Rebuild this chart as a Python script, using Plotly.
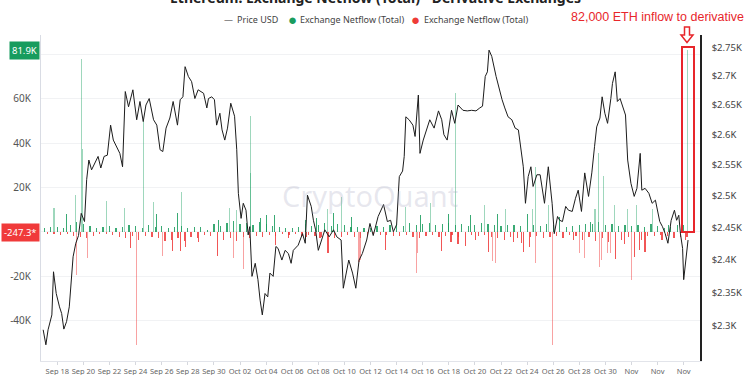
import pandas as pd
import plotly.graph_objects as go

# ---------------- data ----------------
start = pd.Timestamp("2024-09-18 00:00")

# ETH price (USD); time as hours after 2024-09-18 00:00
price_hours = [-26, -21, -17, -10, -7, -2, 4, 8, 12, 17, 22, 26, 29, 34, 39, 44,
               50, 54, 58, 63, 69, 75, 80, 86, 92, 98, 103, 109, 115, 120, 125, 131, 139, 146, 152, 158,
               163, 169, 177, 183, 189, 194, 200, 207, 213, 221, 226, 231, 235, 241, 247, 253, 259, 269, 275,
               278, 284, 289, 293, 299, 303, 308, 313, 319, 326, 330, 333, 338, 342, 347, 351, 354, 358, 364, 369,
               373, 377, 382, 387, 391, 397, 402, 406, 413, 419, 425, 430, 434, 443, 451, 456, 460, 467, 471, 475,
               480, 486, 492, 500, 508, 514, 522, 526, 532, 536, 543, 549, 555, 561, 569, 575, 581,
               590, 600, 607, 613, 618, 624, 629, 635, 638, 641, 647, 654, 658, 664, 667, 673, 679, 685, 693, 701,
               707, 711, 717, 725, 731, 737, 746, 754, 762, 770, 777, 782, 787, 791, 794, 799, 807, 813, 818, 823,
               829, 836, 842, 848, 852, 857, 861, 866, 871, 875, 882,
               888, 896, 903, 910, 914, 920, 924, 929, 935, 940, 947, 953, 958, 964, 970, 977, 983, 988, 992, 998,
               1002, 1007, 1012, 1018, 1021, 1026, 1030, 1035, 1041, 1045, 1049, 1055, 1061, 1066, 1072, 1075,
               1081, 1088, 1094, 1100, 1108, 1113, 1118, 1123, 1129, 1135, 1139, 1143, 1146, 1150, 1152, 1156, 1160]
price_usd = [2294, 2272, 2294, 2316, 2381, 2348, 2328, 2318, 2295, 2306, 2328, 2379, 2404, 2425, 2437, 2472,
             2459, 2526, 2558, 2542, 2553, 2564, 2545, 2564, 2566, 2616, 2591, 2580, 2569, 2547, 2673, 2647, 2676, 2625, 2656, 2622,
             2650, 2661, 2625, 2616, 2575, 2572, 2611, 2628, 2656, 2616, 2659, 2664, 2716, 2699, 2690, 2661, 2676, 2670, 2645,
             2661, 2664, 2659, 2616, 2636, 2608, 2591, 2611, 2653, 2631, 2575, 2504, 2464, 2488, 2477, 2438, 2451, 2374, 2394, 2369,
             2338, 2316, 2348, 2343, 2379, 2374, 2420, 2417, 2399, 2414, 2409, 2394, 2414, 2422, 2440, 2425, 2501, 2483, 2461, 2446,
             2414, 2430, 2446, 2435, 2446, 2435, 2430, 2356, 2383, 2399, 2379, 2356, 2399, 2409, 2430, 2456, 2437,
             2467, 2486, 2459, 2461, 2443, 2454, 2531, 2540, 2564, 2630, 2625, 2616, 2597, 2667, 2569, 2591, 2608, 2625, 2611, 2640,
             2625, 2600, 2591, 2641, 2619, 2650, 2641, 2640, 2641, 2640, 2645, 2648, 2699, 2707, 2745, 2734, 2699, 2676, 2659, 2645,
             2630, 2625, 2611, 2608, 2578, 2547, 2488, 2531, 2547, 2515, 2534,
             2534, 2488, 2547, 2488, 2440, 2467, 2461, 2459, 2483, 2477, 2475, 2496, 2509, 2475, 2537, 2499, 2537, 2580, 2613, 2628,
             2664, 2636, 2619, 2661, 2687, 2707, 2656, 2661, 2645, 2633, 2558, 2520, 2499, 2512, 2569, 2509,
             2512, 2504, 2488, 2493, 2459, 2451, 2440, 2425, 2461, 2477, 2461, 2469, 2440, 2417, 2369, 2399, 2430]

# Exchange netflow (thousand ETH), 6-hourly background flow from 2024-09-17 00:00
base_flow = [1.5, -0.8, 2.0, -1.0,  2.2, -1.5, 1.8, -1.2,  3.0, -2.0, 4.5, -2.5,  3.5, -3.0, 2.5, -2.0,
             1.8, -1.2, 2.0, -1.0,  2.5, -1.5, 1.5, -2.5,  2.0, -3.0, 3.0, -2.0,  2.5, -3.5, 1.8, -2.0,
             3.0, -2.5, 2.0, -3.0,  2.5, -4.0, 1.5, -3.5,  2.0, -3.0, 2.5, -4.0,  1.5, -2.5, 2.0, -3.0,
             2.0, -1.5, 1.0, -2.0,  3.5, -2.5, 2.5, -3.5,  4.0, -3.0, 5.0, -4.0,  3.5, -2.5, 4.0, -3.0,
             3.0, -2.0, 4.5, -2.5,  3.5, -1.5, 2.5, -2.0,  2.0, -1.0, 1.5, -1.5,  1.5, -1.0, 2.0, -2.0,
             3.5, -1.5, 2.5, -2.0,  3.0, -2.5, 4.0, -2.0,  2.5, -3.0, 3.5, -2.5,  3.0, -1.5, 2.0, -2.5,
             2.0, -3.0, 1.5, -2.0,  1.5, -1.0, 2.5, -1.5,  2.0, -1.5, 3.0, -2.0,  3.5, -2.0, 2.5, -1.5,
             4.0, -2.5, 3.0, -3.0,  3.5, -2.0, 4.0, -1.5,  3.0, -2.5, 3.5, -2.0,  4.0, -1.5, 3.0, -2.5,
             3.5, -1.0, 2.5, -1.5,  3.0, -2.0, 4.0, -1.5,  3.5, -2.5, 3.0, -3.0,  2.5, -3.5, 3.0, -2.5,
             3.0, -3.0, 2.5, -3.5,  3.5, -2.5, 3.0, -2.0,  2.5, -3.0, 3.5, -2.5,  3.0, -2.0, 2.0, -3.0,
             2.0, -1.5, 2.5, -2.0,  3.0, -3.5, 3.5, -2.5,  3.5, -4.0, 4.5, -3.0,  3.0, -4.5, 3.5, -5.0,
             2.5, -3.5, 3.0, -2.5,  2.5, -2.5, 3.0, -3.5,  2.0, -2.0, 3.5, -2.0,  2.5, -1.5, 1.5, -2.0,
             2.0, -3.0, 3.0, -2.5,  3.0, -2.5]

# larger individual netflow readings (hours after 2024-09-18 00:00, thousand ETH)
spike_hours = [-6, 17, 34, 35, 44, 46, 55, 91, 124, 134, 146, 159, 177, 183, 193, 212, 221, 227, 229, 236, 259,
               294, 297, 316, 324, 330, 342, 355, 356, 373, 385, 400, 401, 425, 457, 458, 477, 483, 497, 498, 508,
               522, 541, 555, 558,
               604, 641, 660, 662, 668, 686, 706, 719, 724, 733, 737, 750, 760, 769, 785, 793, 800, 806, 810, 825,
               839, 854, 858, 864, 868, 874, 879, 880,
               903, 910, 924, 950, 960, 970, 980, 989, 996, 997, 1001, 1005, 1012, 1018, 1025, 1026, 1043, 1049,
               1056, 1062, 1065, 1070, 1081, 1094, 1112, 1124, 1156, 1159, 1162]
spike_flow = [10.8, 8.0, 16.6, -19.6, 78.0, 37.2, -12.0, 13.9, 10.8, -7.5, -51.2, 50.0, 13.3, 7.8, -11.0, -8.6, 8.3, -8.7, 17.8, -6.8, -4.5,
              -8.3, 5.3, 10.8, -12.0, 9.8, -14.3, 26.7, 52.3, 6.0, 7.5, 7.5, -6.0, -2.7, 5.3, -2.3, 6.0, -3.0, 10.5, -7.5, 8.3,
              15.8, 6.8, -13.5, -9.8,
              -8.3, 11.3, -18.5, -9.8, 7.5, 13.1, -8.6, 7.8, -4.5, 62.8, -5.5, -5.3, 7.5, -3.8, 12.0, -9.0, -13.0, -14.0, 8.0, 10.5,
              -4.5, -5.3, -5.6, 4.5, -6.8, 10.5, 29.4, -14.0,
              12.0, -51.2, 4.5, -3.8, -9.8, -12.0, 4.5, 10.5, 31.2, -15.8, -12.8, 25.2, -9.8, -9.8, 12.0, -7.5, -5.5, 10.5,
              -21.8, -9.0, 12.0, -8.3, -9.0, 10.5, -3.8, 3.0, -3.8, 81.9, -0.2473]

x_tick_dates = ["2024-09-18", "2024-09-20", "2024-09-22", "2024-09-24", "2024-09-26", "2024-09-28", "2024-09-30",
                "2024-10-02", "2024-10-04", "2024-10-06", "2024-10-08", "2024-10-10", "2024-10-12", "2024-10-14",
                "2024-10-16", "2024-10-18", "2024-10-20", "2024-10-22", "2024-10-24", "2024-10-26", "2024-10-28",
                "2024-10-30", "2024-11-01", "2024-11-03", "2024-11-05"]
x_tick_text = ["Sep 18", "Sep 20", "Sep 22", "Sep 24", "Sep 26", "Sep 28", "Sep 30", "Oct 02", "Oct 04", "Oct 06",
               "Oct 08", "Oct 10", "Oct 12", "Oct 14", "Oct 16", "Oct 18", "Oct 20", "Oct 22", "Oct 24", "Oct 26",
               "Oct 28", "Oct 30", "Nov", "Nov", "Nov"]
flow_ticks = [-40, -20, 0, 20, 40, 60, 80]
flow_tick_text = ["-40K", "-20K", "", "20K", "40K", "60K", ""]
price_ticks = [2300, 2350, 2400, 2450, 2500, 2550, 2600, 2650, 2700, 2750]
price_tick_text = ["$2.3K", "$2.35K", "$2.4K", "$2.45K", "$2.5K", "$2.55K", "$2.6K", "$2.65K", "$2.7K", "$2.75K"]

# ---------------- build ----------------
price_t = start + pd.to_timedelta(price_hours, unit="h")
base_t = pd.date_range("2024-09-17 00:00", periods=len(base_flow), freq="6h")
spike_t = start + pd.to_timedelta(spike_hours, unit="h")
flow_t = list(base_t) + list(spike_t)
flow_v = list(base_flow) + list(spike_flow)


def bar_color(v):
    if v >= 0:
        return "rgba(24,160,96,0.42)" if v > 9 else "rgba(24,155,92,0.85)"
    return "rgba(240,60,60,0.48)" if v < -9 else "rgba(238,56,56,0.85)"


colors = [bar_color(v) for v in flow_v]

fig = go.Figure()
fig.add_trace(go.Bar(x=flow_t, y=flow_v, marker=dict(color=colors, line=dict(width=0)),
                     width=2.2 * 3600 * 1000, name="Exchange Netflow (Total)", yaxis="y"))
fig.add_trace(go.Scatter(x=price_t, y=price_usd, mode="lines", line=dict(color="#1c1c1c", width=1),
                         name="Price USD", yaxis="y2"))

# plot-area pixel geometry helpers (layout positions only)
L, R, T, B = 41, 700, 35, 361


def pxx(px):
    return (px - L) / (R - L)


def pxy(py):
    return (B - py) / (B - T)


FONT = "Noto Sans, Open Sans, sans-serif"
RED = "#e8262b"
ann = []
ann.append(dict(text="<b>Ethereum: Exchange Netflow (Total) - Derivative Exchanges</b>", x=pxx(375), y=pxy(9),
                xref="paper", yref="paper", xanchor="center", yanchor="bottom", showarrow=False,
                font=dict(family=FONT, size=14, color="#222")))
# legend
ann.append(dict(text="—", x=pxx(222), y=pxy(19), xref="paper", yref="paper", xanchor="left", yanchor="middle",
                showarrow=False, font=dict(family=FONT, size=9, color="#333")))
ann.append(dict(text="Price USD", x=pxx(235), y=pxy(19), xref="paper", yref="paper", xanchor="left", yanchor="middle",
                showarrow=False, font=dict(family=FONT, size=9, color="#444")))
ann.append(dict(text="●", x=pxx(292), y=pxy(19), xref="paper", yref="paper", xanchor="center", yanchor="middle",
                showarrow=False, font=dict(family=FONT, size=15, color="#1a9c5e")))
ann.append(dict(text="Exchange Netflow (Total)", x=pxx(298), y=pxy(19), xref="paper", yref="paper", xanchor="left",
                yanchor="middle", showarrow=False, font=dict(family=FONT, size=9, color="#444")))
ann.append(dict(text="●", x=pxx(415), y=pxy(19), xref="paper", yref="paper", xanchor="center", yanchor="middle",
                showarrow=False, font=dict(family=FONT, size=15, color="#ee3b36")))
ann.append(dict(text="Exchange Netflow (Total)", x=pxx(422), y=pxy(19), xref="paper", yref="paper", xanchor="left",
                yanchor="middle", showarrow=False, font=dict(family=FONT, size=9, color="#444")))
# callout text
ann.append(dict(text="82,000 ETH inflow to derivative", x=pxx(657), y=pxy(17.5), xref="paper", yref="paper",
                xanchor="center", yanchor="middle", showarrow=False,
                font=dict(family="Liberation Sans, Arial, sans-serif", size=12.5, color=RED)))
# watermark
ann.append(dict(text="CryptoQuant", x=pxx(370), y=pxy(195), xref="paper", yref="paper", xanchor="center",
                yanchor="middle", showarrow=False,
                font=dict(family=FONT, size=29, color="rgba(170,172,195,0.28)")))
# axis value badges
ann.append(dict(text="81.9K", x=pxx(40), y=spike_flow[-2], xref="paper", yref="y", xanchor="right",
                yanchor="middle", showarrow=False, bgcolor="#179c5e", borderpad=2,
                font=dict(family=FONT, size=9.5, color="white")))
ann.append(dict(text="-247.3*", x=pxx(40), y=spike_flow[-1], xref="paper", yref="y", xanchor="right",
                yanchor="middle", showarrow=False, bgcolor="#f03a3a", borderpad=2,
                font=dict(family=FONT, size=9.5, color="white")))
ann.append(dict(text="$2.42K", x=pxx(701), y=2430, xref="paper", yref="y2", xanchor="left",
                yanchor="middle", showarrow=False, bgcolor="#111", borderpad=2,
                font=dict(family=FONT, size=10, color="white")))

shapes = []
shapes.append(dict(type="rect", xref="paper", yref="paper", x0=pxx(682), x1=pxx(694), y0=pxy(232), y1=pxy(47),
                   line=dict(color=RED, width=2), fillcolor="rgba(0,0,0,0)"))
arrow_pts = [(684.5, 27), (689.5, 27), (689.5, 35), (693, 35), (687, 42.5), (681, 35), (684.5, 35)]
path = "M " + " L ".join(f"{pxx(a):.5f},{pxy(b):.5f}" for a, b in arrow_pts) + " Z"
shapes.append(dict(type="path", xref="paper", yref="paper", path=path, line=dict(color=RED, width=1.5),
                   fillcolor="white"))

fig.update_layout(
    width=750, height=375,
    margin=dict(l=L, r=750 - R, t=T, b=375 - B, autoexpand=False),
    paper_bgcolor="white", plot_bgcolor="white",
    showlegend=False, bargap=0,
    font=dict(family=FONT),
    xaxis=dict(type="date", range=["2024-09-16 18:00", "2024-11-06 06:00"], automargin=False,
               tickvals=x_tick_dates, ticktext=x_tick_text, tickangle=0,
               showgrid=False, showline=True, linecolor="#e2e4ea", linewidth=1,
               ticks="outside", ticklen=3, tickcolor="#d6d8de",
               tickfont=dict(family=FONT, size=7.5, color="#666"), zeroline=False),
    yaxis=dict(range=[-58.4, 88.9], tickvals=flow_ticks, ticktext=flow_tick_text, automargin=False,
               showgrid=True, gridcolor="#f1f2f4", gridwidth=1, showline=True, linecolor="#d9dce4",
               zeroline=False, ticks="", ticklabelstandoff=7,
               tickfont=dict(family=FONT, size=10, color="#555")),
    yaxis2=dict(overlaying="y", side="right", type="log", range=[3.35189, 3.44276], automargin=False,
                tickvals=price_ticks, ticktext=price_tick_text, showgrid=False,
                showline=True, linecolor="#222", linewidth=1.5, zeroline=False, ticks="",
                ticklabelstandoff=8, tickfont=dict(family=FONT, size=9.5, color="#444")),
    annotations=ann, shapes=shapes,
)

fig.write_html("out.html",
               config={"displayModeBar": False},
               post_script="document.body.style.margin='0';document.body.style.padding='0';"
                           "document.body.style.overflow='hidden';")
